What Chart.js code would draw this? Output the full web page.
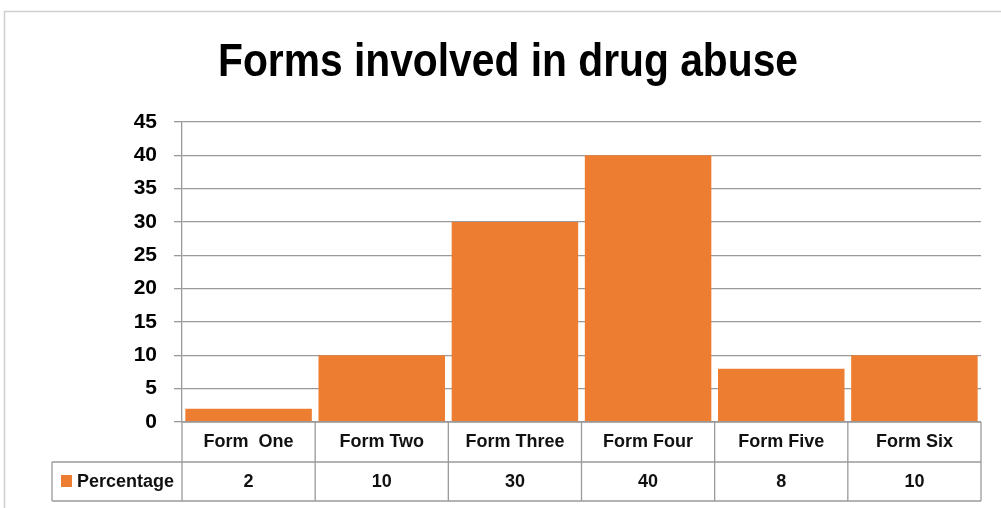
<!DOCTYPE html>
<html>
<head>
<meta charset="utf-8">
<script src="https://cdn.jsdelivr.net/npm/chart.js@4.4.1/dist/chart.umd.min.js"></script>
<style>
  html, body { margin: 0; padding: 0; background: #fff; }
  #wrap { width: 1001px; height: 508px; }
</style>
</head>
<body>
<div id="wrap"><canvas id="c" width="1001" height="508"></canvas></div>
<script>
const titleText = 'Forms involved in drug abuse';
const seriesName = 'Percentage';
const categories = ['Form  One', 'Form Two', 'Form Three', 'Form Four', 'Form Five', 'Form Six'];
const percentages = [2, 10, 30, 40, 8, 10];
const yTicks = [0, 5, 10, 15, 20, 25, 30, 35, 40, 45];

const barColor = '#ED7D31';
const lineColor = '#9a9a9a';
const fontFamily = '"Liberation Sans", Arial, sans-serif';

// Frame, title and the data table under the category axis
const tablePlugin = {
  id: 'dataTable',
  afterDraw(chart) {
    const ctx = chart.ctx;
    const area = chart.chartArea;
    const x = chart.scales.x;
    const n = categories.length;
    const step = (area.right - area.left) / n;
    const rowTop = area.bottom;
    const rowMid = rowTop + 40;
    const rowBot = rowTop + 79;
    const legendLeft = 52;

    ctx.save();
    // outer frame
    ctx.strokeStyle = '#cfcfcf';
    ctx.lineWidth = 1.5;
    ctx.beginPath();
    ctx.moveTo(4.5, 508);
    ctx.lineTo(4.5, 11.5);
    ctx.lineTo(1001, 11.5);
    ctx.stroke();

    // title
    ctx.fillStyle = '#000';
    ctx.font = 'bold 46px ' + fontFamily;
    ctx.textAlign = 'center';
    ctx.textBaseline = 'alphabetic';
    ctx.fillText(titleText, 508, 76, 580);

    // table grid
    ctx.strokeStyle = lineColor;
    ctx.lineWidth = 1.3;
    ctx.beginPath();
    ctx.moveTo(area.left, rowTop);
    ctx.lineTo(area.right, rowTop);
    ctx.moveTo(legendLeft, rowMid);
    ctx.lineTo(area.right, rowMid);
    ctx.moveTo(legendLeft, rowBot);
    ctx.lineTo(area.right, rowBot);
    ctx.moveTo(legendLeft, rowMid);
    ctx.lineTo(legendLeft, rowBot);
    for (let i = 0; i <= n; i++) {
      const bx = i < n ? x.getPixelForValue(i) - step / 2 : x.getPixelForValue(n - 1) + step / 2;
      ctx.moveTo(bx, rowTop);
      ctx.lineTo(bx, rowBot);
    }
    ctx.stroke();

    // category names and values
    ctx.fillStyle = '#111';
    ctx.font = 'bold 18px ' + fontFamily;
    ctx.textAlign = 'center';
    ctx.textBaseline = 'middle';
    categories.forEach((c, i) => {
      const cx = x.getPixelForValue(i);
      ctx.fillText(c, cx, rowTop + 20);
      ctx.fillText(String(percentages[i]), cx, rowMid + 20);
    });

    // legend key
    ctx.fillStyle = barColor;
    ctx.fillRect(61, rowMid + 13, 11, 12);
    ctx.fillStyle = '#111';
    ctx.textAlign = 'left';
    ctx.fillText(seriesName, 77, rowMid + 20);
    ctx.restore();
  }
};

new Chart(document.getElementById('c'), {
  type: 'bar',
  data: {
    labels: categories,
    datasets: [{
      label: seriesName,
      data: percentages,
      backgroundColor: barColor,
      borderWidth: 0,
      barPercentage: 0.95,
      categoryPercentage: 1.0
    }]
  },
  options: {
    responsive: false,
    animation: false,
    devicePixelRatio: 1,
    layout: { padding: { top: 122, bottom: 86, left: 0, right: 20 } },
    plugins: {
      legend: { display: false },
      title: { display: false },
      tooltip: { enabled: false }
    },
    scales: {
      x: {
        display: false
      },
      y: {
        min: 0,
        max: 45,
        afterBuildTicks(scale) { scale.ticks = yTicks.map(v => ({ value: v })); },
        afterFit(scale) { scale.width = 182; },
        ticks: {
          color: '#000',
          padding: 17,
          font: { family: fontFamily, size: 21, weight: 'bold' }
        },
        grid: {
          color: lineColor,
          lineWidth: 1.3,
          tickLength: 8,
          drawTicks: true
        },
        border: { display: true, color: lineColor, width: 1.3 }
      }
    }
  },
  plugins: [tablePlugin]
});
</script>
</body>
</html>
